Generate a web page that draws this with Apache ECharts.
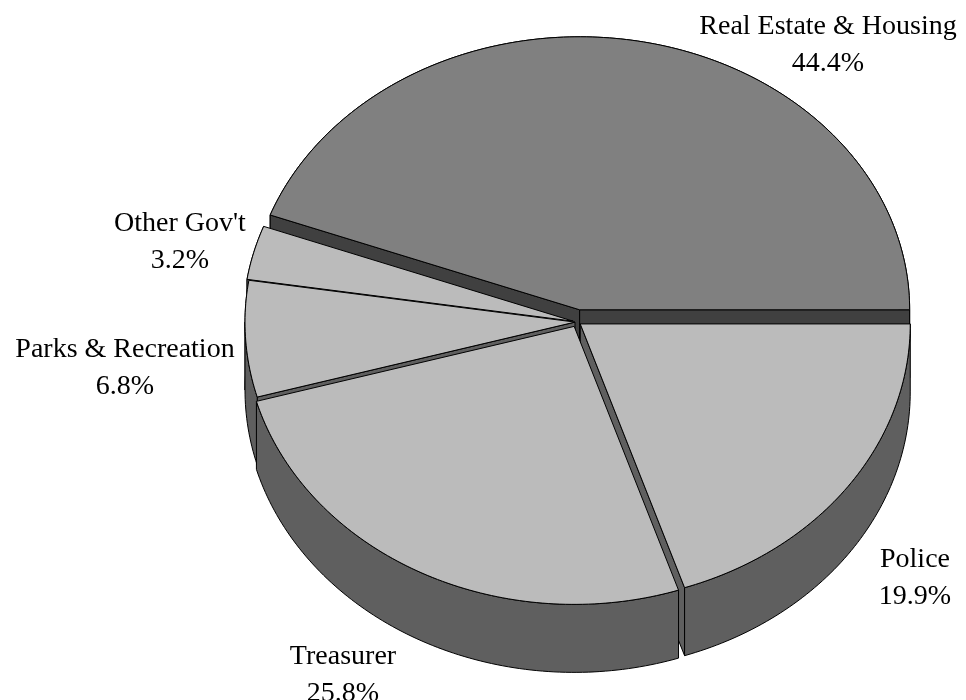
<!DOCTYPE html>
<html>
<head>
<meta charset="utf-8">
<script src="https://cdn.jsdelivr.net/npm/echarts@6/dist/echarts.min.js"></script>
<style>
  html, body { margin: 0; padding: 0; background: #ffffff; }
  #main { width: 966px; height: 700px; }
</style>
</head>
<body>
<div id="main"></div>
<script>
// Budget shares by department (percent), counter-clockwise from 3 o'clock
const categories = ['Real Estate & Housing', "Other Gov't", 'Parks & Recreation', 'Treasurer', 'Police'];
const shares = [44.4, 3.2, 6.8, 25.8, 19.9];

// Geometry of the tilted disc (pixels)
const CX = 577, CY = 322;      // centre of the top face
const RX = 330;                // horizontal half-axis
const RY_BACK = 273;           // far half of the ellipse looks a little flatter
const RY_FRONT = 278;          // near half
const DEPTH = 68;              // thickness of the disc
const explode = [15, 4, 2, 6, 4];

// Styling per slice
const topColors  = ['#808080', '#bbbbbb', '#bbbbbb', '#bbbbbb', '#bbbbbb'];
const sideColors = ['#404040', '#5f5f5f', '#5f5f5f', '#5f5f5f', '#5f5f5f'];
// Label block centres, relative to the disc centre
const labelOffsets = [[251, -277], [-397, -80], [-452, 46], [-234, 353], [338, 256]];

const FONT = '28px "Liberation Serif", "Times New Roman", serif';

const total = shares.reduce((a, b) => a + b, 0);
const startAngles = [];
(function () {
  let acc = 0;
  shares.forEach(v => { startAngles.push(acc / total * 360); acc += v; });
})();

function rad(d) { return d * Math.PI / 180; }
function rimPoint(c, deg, drop) {
  const s = Math.sin(rad(deg));
  const ry = s > 0 ? RY_BACK : RY_FRONT;
  return [c[0] + RX * Math.cos(rad(deg)), c[1] - ry * s + (drop || 0)];
}
function arcPoints(c, a0, a1, drop) {
  const pts = [];
  const n = Math.max(2, Math.ceil(Math.abs(a1 - a0)));
  for (let k = 0; k <= n; k++) pts.push(rimPoint(c, a0 + (a1 - a0) * k / n, drop));
  return pts;
}
const outline = { stroke: '#000000', lineWidth: 1, lineJoin: 'round' };

function wallEl(c, a0, a1, fill, z2) {
  const pts = arcPoints(c, a0, a1, 0).concat(arcPoints(c, a1, a0, DEPTH));
  return { type: 'polygon', z2: z2, shape: { points: pts }, style: Object.assign({ fill: fill }, outline) };
}
function faceEl(c, deg, fill, z2) {
  const r = rimPoint(c, deg, 0);
  return {
    type: 'polygon', z2: z2,
    shape: { points: [[c[0], c[1]], r, [r[0], r[1] + DEPTH], [c[0], c[1] + DEPTH]] },
    style: Object.assign({ fill: fill }, outline)
  };
}

function renderSlice(params, api) {
  const i = params.dataIndex;
  const value = api.value(0);
  const a0 = startAngles[i];
  const a1 = a0 + value / total * 360;
  const mid = (a0 + a1) / 2;
  const e = explode[i];
  const c = [CX + e * Math.cos(rad(mid)), CY - e * Math.sin(rad(mid)) * RY_BACK / RX];
  const children = [];

  // outer wall: hidden back part first, visible front part later
  if (a0 < 180) children.push(wallEl(c, a0, Math.min(a1, 180), sideColors[i], 10 + i));
  if (a1 > 180) {
    const s = Math.max(a0, 180);
    const m = (s + a1) / 2;
    children.push(wallEl(c, s, a1, sideColors[i], 200 - Math.sin(rad(m))));
  }
  // cut faces that turn towards the viewer
  if (Math.cos(rad(a0)) > 1e-6) children.push(faceEl(c, a0, sideColors[i], 100 - Math.sin(rad(a0))));
  if (Math.cos(rad(a1)) < -1e-6) children.push(faceEl(c, a1, sideColors[i], 100 - Math.sin(rad(a1))));

  // top face
  children.push({
    type: 'polygon', z2: 300,
    shape: { points: [[c[0], c[1]]].concat(arcPoints(c, a0, a1, 0)) },
    style: Object.assign({ fill: topColors[i] }, outline)
  });

  // label
  children.push({
    type: 'text', z2: 400,
    x: CX + labelOffsets[i][0], y: CY + labelOffsets[i][1],
    style: {
      text: categories[i] + '\n' + value.toFixed(1) + '%',
      font: FONT, fill: '#000000',
      align: 'center', verticalAlign: 'middle', lineHeight: 37
    }
  });
  return { type: 'group', children: children };
}

const chart = echarts.init(document.getElementById('main'));
chart.setOption({
  animation: false,
  backgroundColor: '#ffffff',
  series: [{
    type: 'custom',
    coordinateSystem: 'none',
    silent: true,
    data: shares.map((v, i) => ({ name: categories[i], value: v })),
    renderItem: renderSlice
  }]
});
</script>
</body>
</html>
